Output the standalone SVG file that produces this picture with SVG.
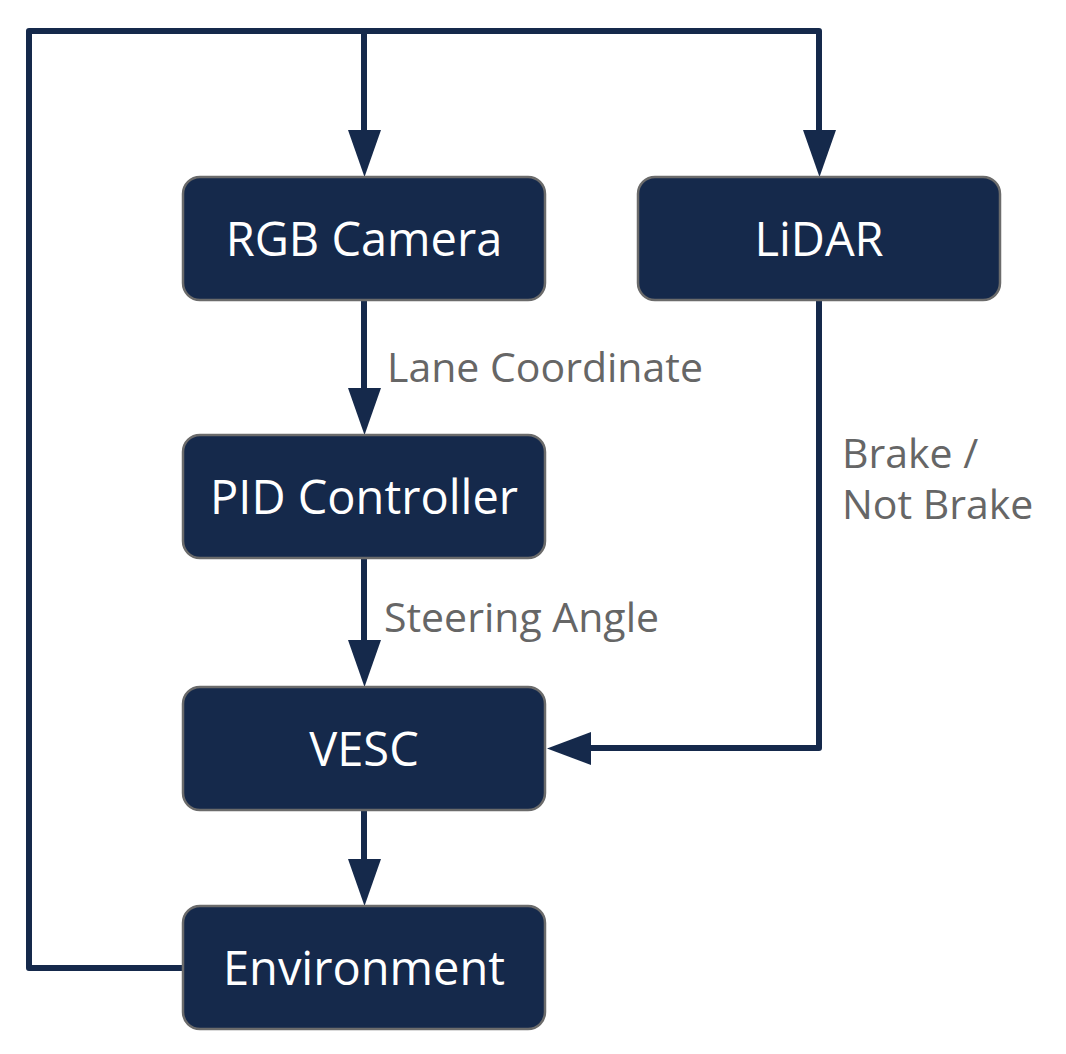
<svg xmlns="http://www.w3.org/2000/svg" width="1066" height="1054" viewBox="0 0 1066 1054">
<defs>
<style>
.node rect{fill:#15294b;stroke:#6b6b6b;stroke-width:2.5}
.node text{fill:#ffffff;font-family:"Open Sans","Liberation Sans",sans-serif;font-size:47px;text-anchor:middle}
.conn{fill:none;stroke:#15294b;stroke-width:6;stroke-linejoin:round}
.head{fill:#15294b}
.lbl{fill:#666666;font-family:"Open Sans","Liberation Sans",sans-serif;font-size:41px}
</style>
</defs>
<rect width="1066" height="1054" fill="#ffffff"/>
<g id="connectors">
<polyline class="conn" points="183,968 29,968 29,31 819,31 819,140"/>
<polyline class="conn" points="364,31 364,140"/>
<polygon class="head" points="348,130 381,130 364.5,177"/>
<polygon class="head" points="803,130 836,130 819.5,177"/>
<polyline class="conn" points="364,300 364,395"/>
<polygon class="head" points="348,388 381,388 364.5,435"/>
<polyline class="conn" points="364,558 364,645"/>
<polygon class="head" points="348,640 381,640 364.5,687"/>
<polyline class="conn" points="364,810 364,870"/>
<polygon class="head" points="348,859 381,859 364.5,906"/>
<polyline class="conn" points="819,300 819,748 580,748"/>
<polygon class="head" points="591,732 591,765 547,748.5"/>
<text class="lbl" x="387" y="382">Lane Coordinate</text>
<text class="lbl" x="384" y="632">Steering Angle</text>
<text class="lbl" x="842" y="468">Brake /</text>
<text class="lbl" x="842" y="519">Not Brake</text>
</g>
<g id="rgb-camera" class="node"><rect x="183" y="177" width="362" height="123" rx="17"/><text x="364" y="256">RGB Camera</text></g>
<g id="lidar" class="node"><rect x="638" y="177" width="362" height="123" rx="17"/><text x="819" y="256">LiDAR</text></g>
<g id="pid-controller" class="node"><rect x="183" y="435" width="362" height="123" rx="17"/><text x="364" y="514">PID Controller</text></g>
<g id="vesc" class="node"><rect x="183" y="687" width="362" height="123" rx="17"/><text x="364" y="766">VESC</text></g>
<g id="environment" class="node"><rect x="183" y="906" width="362" height="123" rx="17"/><text x="364" y="985">Environment</text></g>
</svg>
